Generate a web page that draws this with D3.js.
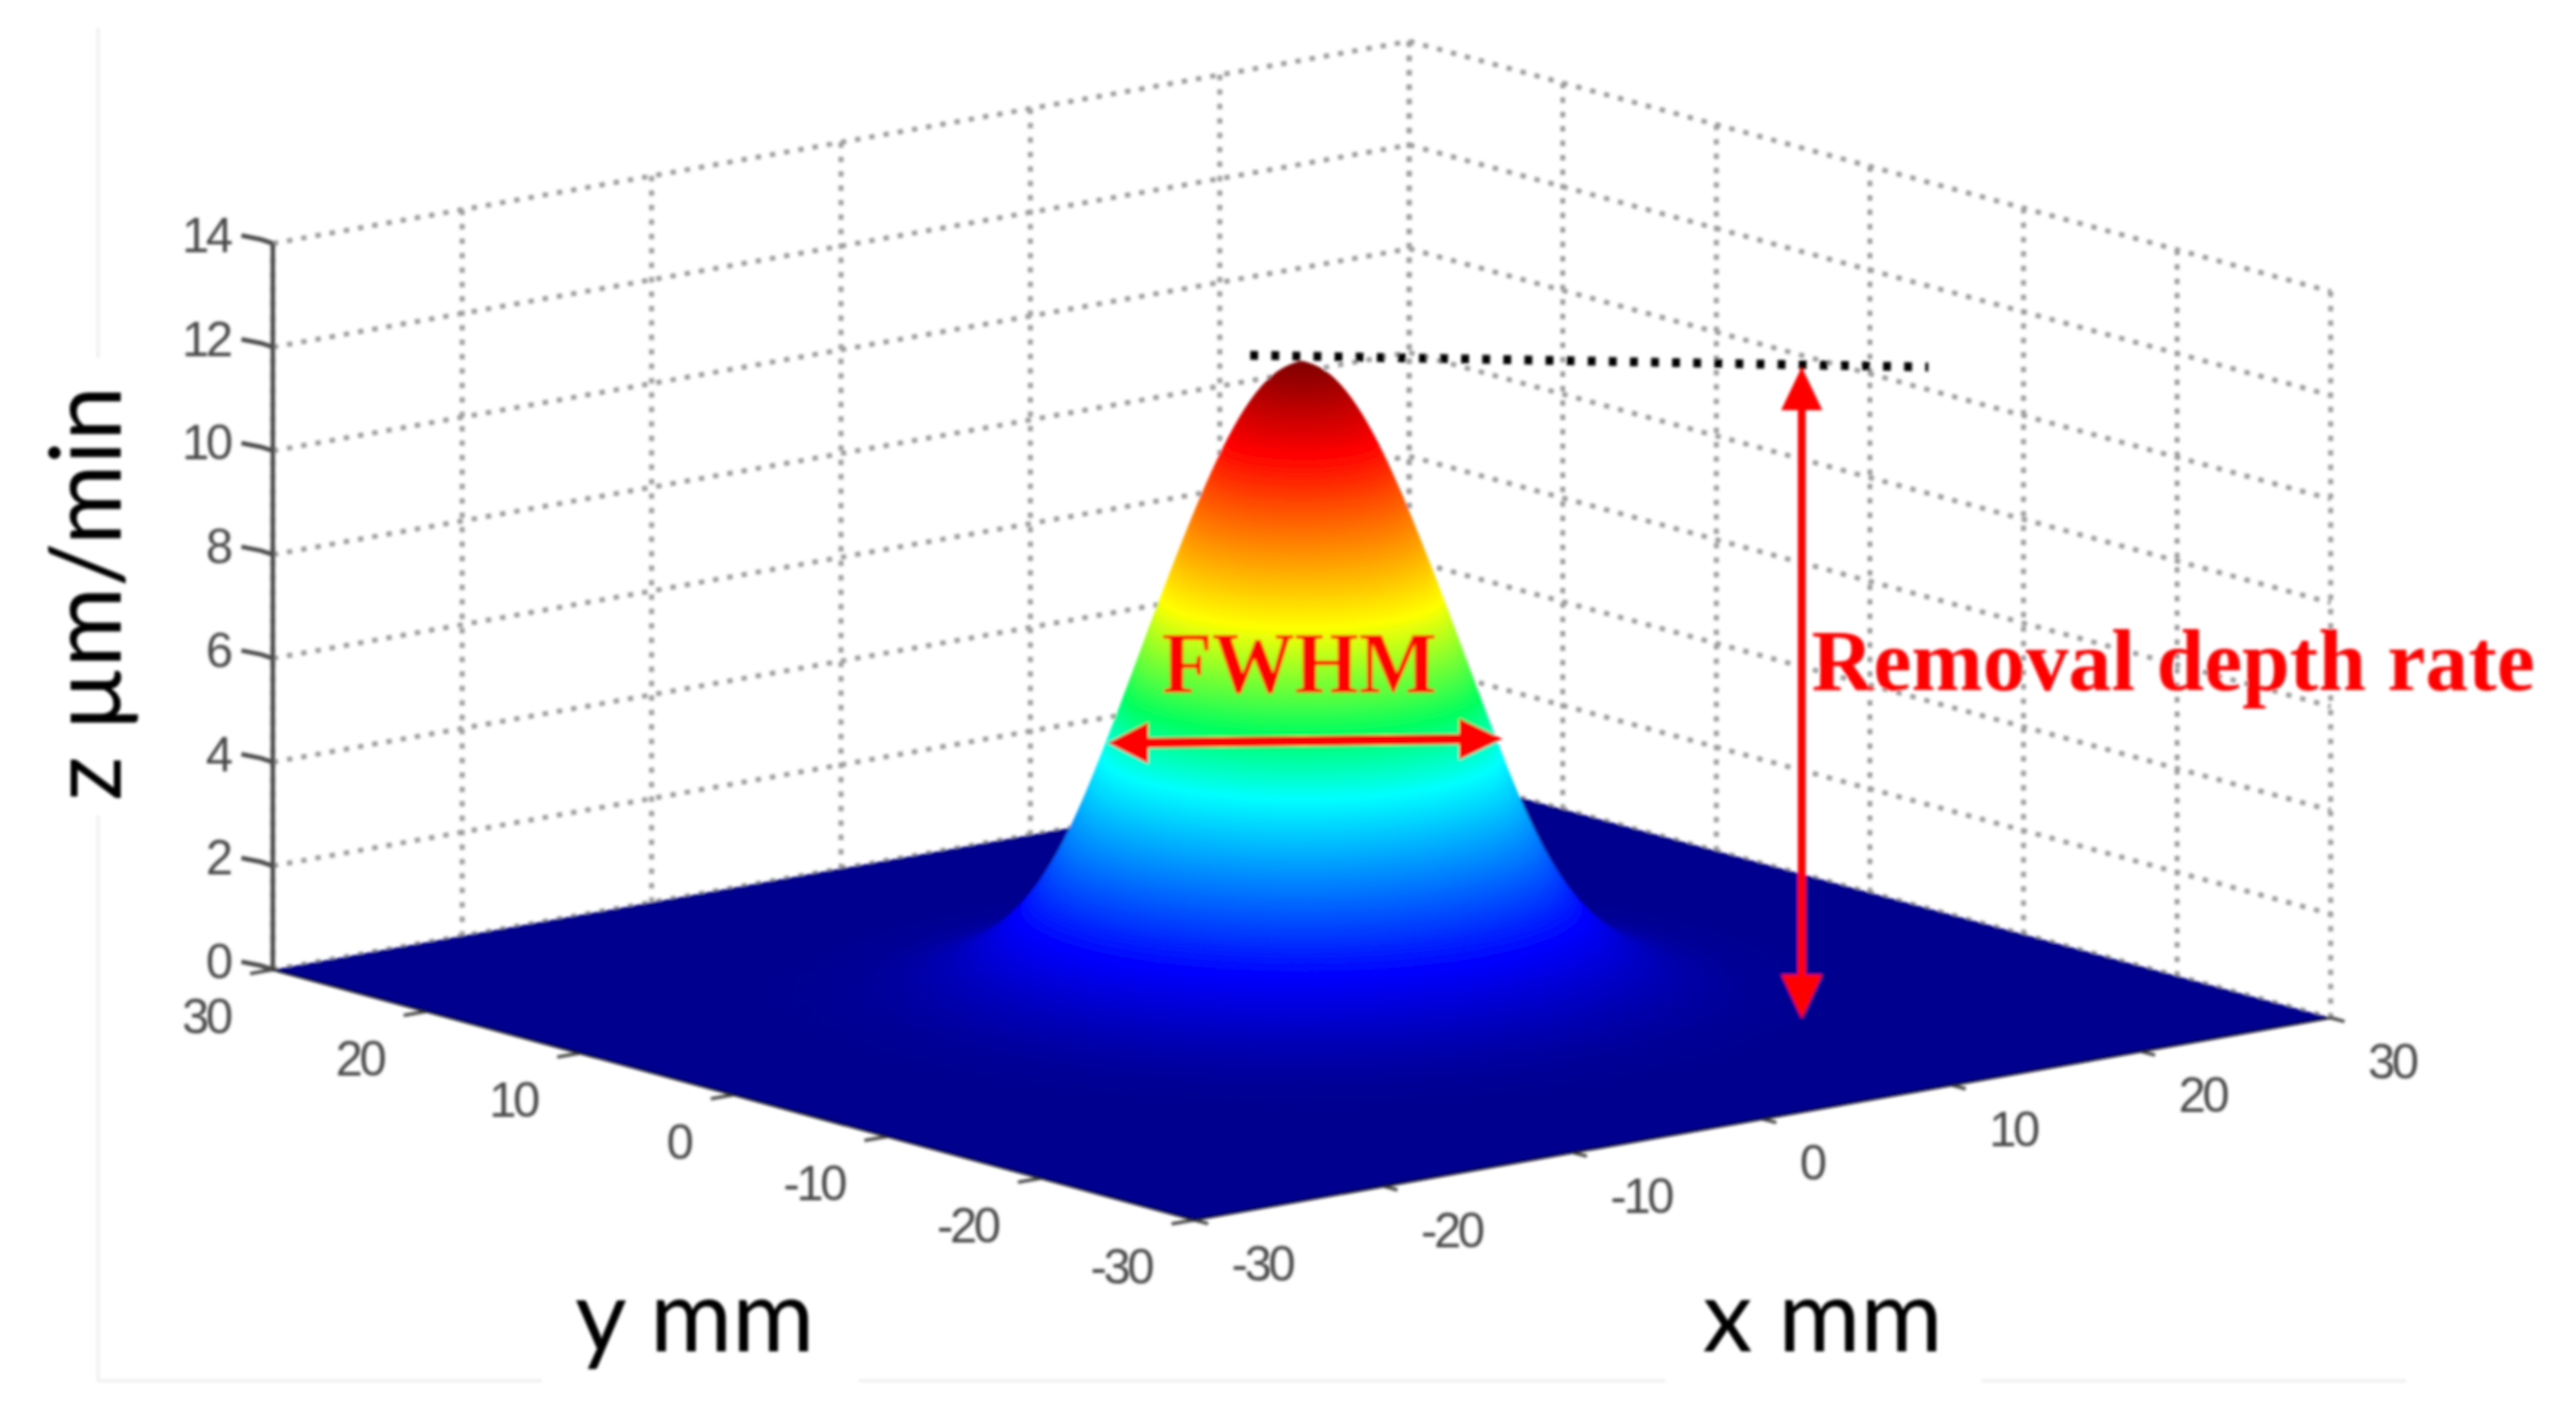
<!DOCTYPE html>
<html><head><meta charset="utf-8">
<script src="https://cdn.jsdelivr.net/npm/d3@7"></script>
<style>html,body{margin:0;padding:0;background:#fff}svg{display:block}</style>
</head><body><svg id="c" width="2625" height="1451" viewBox="0 0 2625 1451"></svg>
<script>
// ---- data ----
const xTicks=[-30,-20,-10,0,10,20,30];
const yTicks=[30,20,10,0,-10,-20,-30];
const zTicks=[0,2,4,6,8,10,12,14];
// removal depth rate (z) at each millimetre of radius from the spot centre
const profileZ=[12.2,12.03,11.54,10.76,9.76,8.6,7.38,6.1,4.85,3.65,2.65,1.9,1.35,0.95,0.65,0.45,0.3,0.2,0.12,0.07,0.04,0.02,0,0,0];
const jetStops=[0,0.125,0.375,0.47,0.625,0.875,1];
const jetColors=["#00008f","#0000ff","#00ffff","#00ff60","#ffff00","#ff0000","#800000"];
const labelX="x mm", labelY="y mm", labelZ="z µm/min", noteFwhm="FWHM", noteRate="Removal depth rate";

// ---- layout ----
const O={x:1217,y:1243}, A={x:1158,y:-206}, B={x:-939,y:-255};
const sx=d3.scaleLinear().domain([-30,30]).range([0,1]);
const sy=d3.scaleLinear().domain([-30,30]).range([0,1]);
const sz=d3.scaleLinear().domain([0,14]).range([0,-740]);
const P=(x,y,z=0)=>[O.x+sx(x)*A.x+sy(y)*B.x, O.y+sx(x)*A.y+sy(y)*B.y+sz(z)];
const rMax=profileZ.length-1;
const smooth=d3.interpolateBasis(profileZ);
const jet=d3.scaleLinear().domain(jetStops.map(d=>d*12.2)).range(jetColors).clamp(true);

const svg=d3.select("#c");
svg.append("defs").append("filter").attr("id","soft").attr("filterUnits","userSpaceOnUse")
 .attr("x",0).attr("y",0).attr("width",2625).attr("height",1451)
 .append("feGaussianBlur").attr("stdDeviation",1.8);
const root=svg.append("g").attr("filter","url(#soft)");
const line=d3.line();

// faint frame remains
const frame=[[[100,28],[100,365]],[[100,831],[100,1407]],[[100,1407],[552,1407]],[[875,1407],[1697,1407]],[[2019,1407],[2452,1407]]];
root.append("g").selectAll("path").data(frame).join("path").attr("d",d=>line(d))
 .attr("stroke","#eeeeee").attr("stroke-width",3).attr("fill","none");

// walls grid
const grid=root.append("g").attr("fill","none").attr("stroke","#9c9c9c").attr("stroke-width",5).attr("stroke-dasharray","5.5 9.2");
zTicks.forEach(z=>{
  grid.append("path").attr("d",line([P(-30,30,z),P(30,30,z)]));
  grid.append("path").attr("d",line([P(30,30,z),P(30,-30,z)]));
});
xTicks.forEach(x=>grid.append("path").attr("d",line([P(x,30,14),P(x,30,0)])));
yTicks.forEach(y=>grid.append("path").attr("d",line([P(30,y,14),P(30,y,0)])));

// z axis
const ax=root.append("g").attr("fill","none").attr("stroke","#4a4a4a").attr("stroke-width",4.5);
ax.append("path").attr("d",line([P(-30,30,0),P(-30,30,14)]));
zTicks.forEach(z=>{
  const p=P(-30,30,z);
  ax.append("path").attr("d",line([[p[0]-32,p[1]-8],[p[0]-12,p[1]-4],p]));
});
// floor ticks
yTicks.forEach(y=>ax.append("path").attr("d",line([P(-30,y,0),P(-31.2,y,0)])).attr("stroke-width",3.5));
xTicks.forEach(x=>ax.append("path").attr("d",line([P(x,-30,0),P(x,-30.9,0)])).attr("stroke-width",3.5));

// floor
root.append("path").attr("d",line([P(-30,-30),P(30,-30),P(30,30),P(-30,30)])+"Z").attr("fill",jetColors[0]);
root.append("path").attr("d",line([P(-30,30),P(-30,-30),P(30,-30)])).attr("fill","none").attr("stroke","#111").attr("stroke-width",2.5);

// surface: concentric rings of the radial profile, outermost first
const rings=d3.range(rMax,0,-0.04).map(r=>({r,z:smooth(r/rMax)})).filter(d=>d.z>0.005);
const angles=d3.range(0,2*Math.PI,2*Math.PI/90);
root.append("g").selectAll("path").data(rings).join("path")
 .attr("d",d=>line(angles.map(a=>P(d.r*Math.cos(a),d.r*Math.sin(a),d.z)))+"Z")
 .attr("fill",d=>jet(d.z));

// tick labels
const tick=root.append("g").attr("fill","#4a4a4a").attr("font-family","Liberation Sans").attr("font-size",50).attr("letter-spacing",-3.5);
zTicks.forEach(z=>{const p=P(-30,30,z);tick.append("text").attr("x",p[0]-44).attr("y",p[1]+9).attr("text-anchor","end").text(z);});
yTicks.forEach(y=>{const p=P(-30,y,0);tick.append("text").attr("x",p[0]-44).attr("y",p[1]+65).attr("text-anchor","end").text(y);});
xTicks.forEach(x=>{const p=P(x,-30,0);tick.append("text").attr("x",p[0]+38).attr("y",p[1]+62).attr("text-anchor","start").text(x);});

// axis labels
const lab=root.append("g").attr("fill","#000").attr("font-family","Lato").attr("font-size",102);
lab.append("text").attr("x",586).attr("y",1377).text(labelY);
lab.append("text").attr("x",1735).attr("y",1377).text(labelX);
lab.append("text").attr("transform","translate(123,816) rotate(-90)").attr("font-size",100).text(labelZ);

// annotations
root.append("path").attr("d",line([[1274,362],[1965,374]])).attr("fill","none").attr("stroke","#000").attr("stroke-width",9).attr("stroke-dasharray","8 13.5");
const red="#ff0000";
const ann=root.append("g");
ann.append("path").attr("d",line([[1836,410],[1836,1000]])).attr("stroke",red).attr("stroke-width",8).attr("fill","none");
ann.append("path").attr("d",line([[1836,374],[1857,418],[1815,418]])+"Z").attr("fill",red);
ann.append("path").attr("d",line([[1836,1038],[1857,993],[1815,993]])+"Z").attr("fill",red);
ann.append("path").attr("d",line([[1160,757],[1500,753]])).attr("stroke",red).attr("stroke-width",10).attr("fill","none");
ann.append("path").attr("d",line([[1129,757],[1170,736],[1170,778]])+"Z").attr("fill",red);
ann.append("path").attr("d",line([[1531,753],[1487,732],[1487,774]])+"Z").attr("fill",red);
const nt=root.append("g").attr("fill",red).attr("font-family","Liberation Serif").attr("font-weight","bold").attr("font-size",88);
nt.append("text").attr("x",1184).attr("y",705).attr("textLength",280).attr("lengthAdjust","spacingAndGlyphs").text(noteFwhm);
nt.append("text").attr("x",1846).attr("y",703).attr("textLength",737).attr("lengthAdjust","spacingAndGlyphs").text(noteRate);
</script></body></html>
